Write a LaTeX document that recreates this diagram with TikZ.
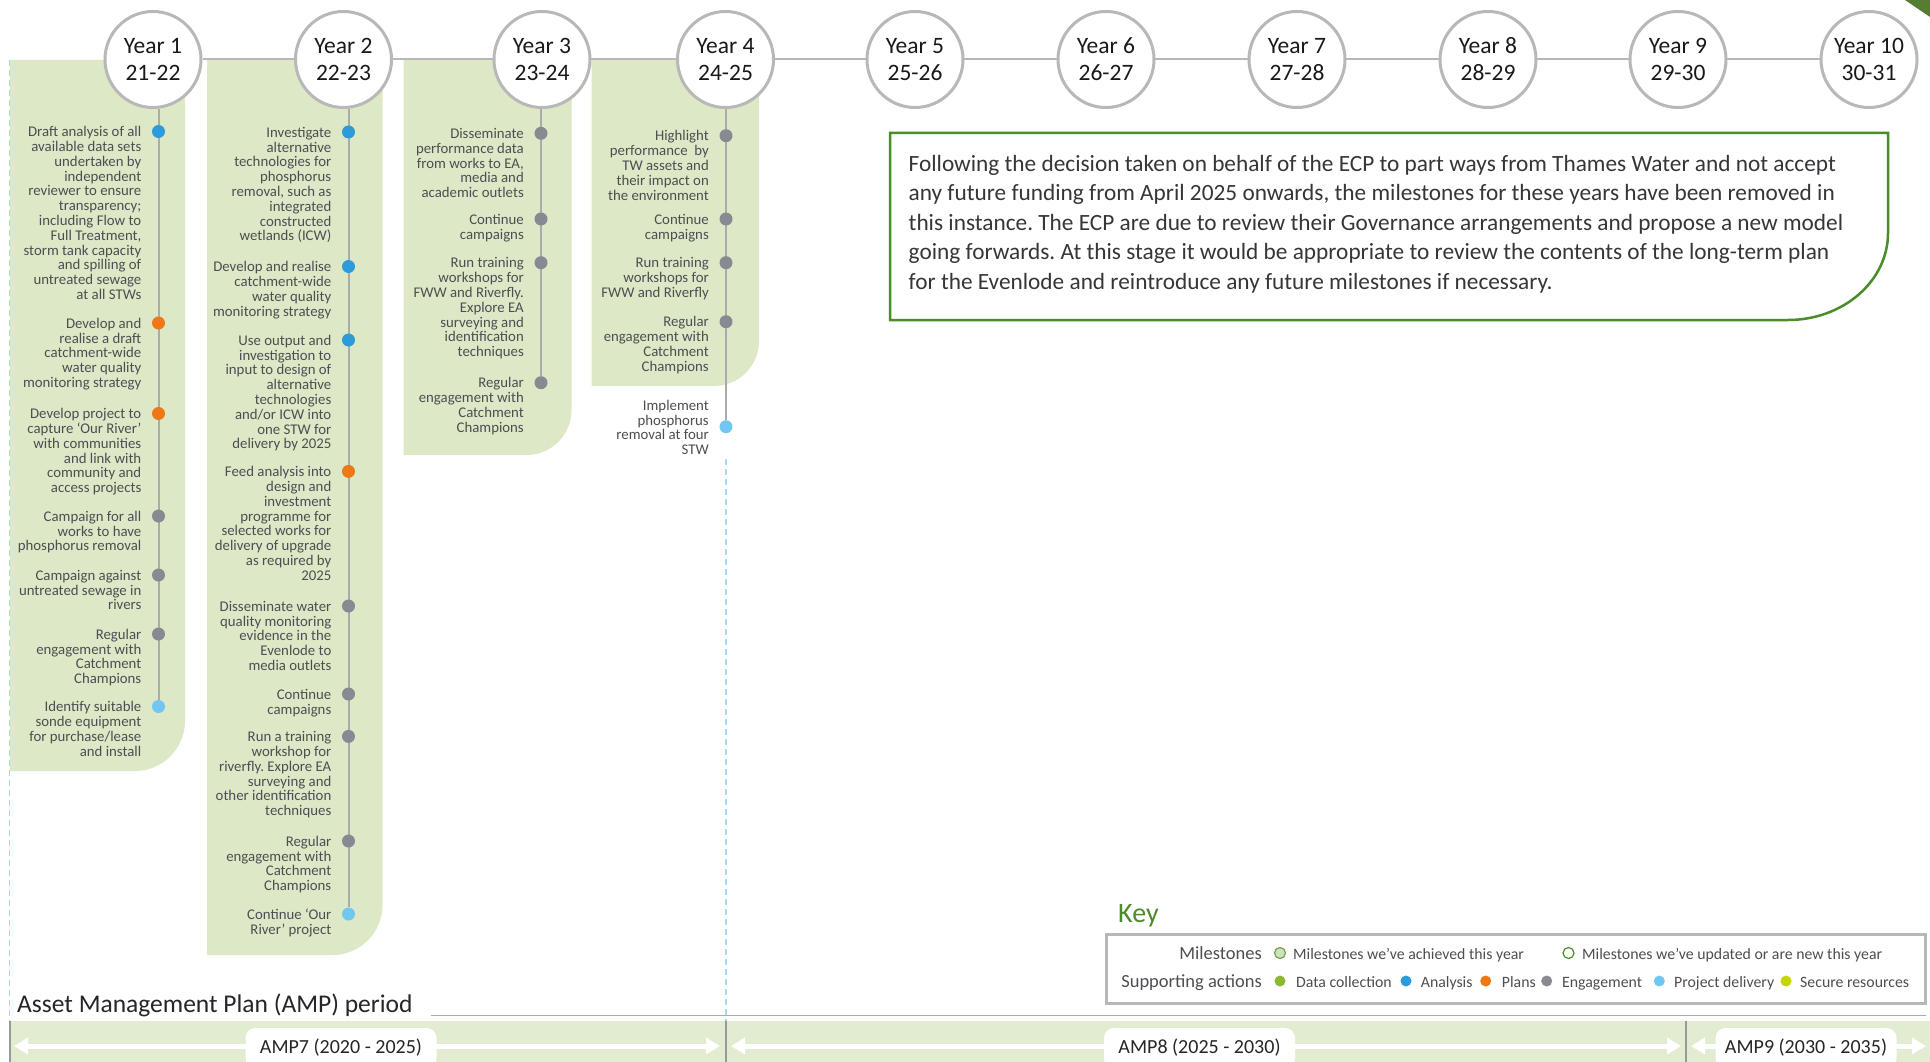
\documentclass[tikz,border=0pt]{standalone}
\usepackage{fontspec}
\setmainfont{Carlito}
\usetikzlibrary{arrows.meta}
\pgfdeclarelayer{bg}\pgfdeclarelayer{mid}\pgfsetlayers{bg,mid,main}
\definecolor{panel}{HTML}{DDE8C6}
\definecolor{band}{HTML}{E2ECD1}
\definecolor{cgray}{HTML}{B8B8B8}
\definecolor{lgray}{HTML}{ABABAB}
\definecolor{txt}{HTML}{4C4E52}
\definecolor{notetxt}{HTML}{35363A}
\definecolor{cana}{HTML}{2D9AD9}
\definecolor{cpla}{HTML}{EE7718}
\definecolor{ceng}{HTML}{878A90}
\definecolor{cpro}{HTML}{72C7F2}
\definecolor{cdat}{HTML}{8DB832}
\definecolor{csec}{HTML}{C6D400}
\definecolor{kgreen}{HTML}{4A8C2A}
\definecolor{dashb}{HTML}{A6D8F2}
\definecolor{achf}{HTML}{CFE1BD}
\definecolor{corner}{HTML}{557D33}
\lineskiplimit=-20pt
\frenchspacing
\newcommand\mstone[6][0]{%
  \node[mdot=#5] (#2) at (#3,#4) {};
  \node[mtext] (#2t) at ([xshift=-17pt,yshift=6.5pt+#1pt]#2.center) {\rule{0pt}{11.5pt}#6};}
\newcommand\panelshape[5]{%
  \fill[panel] (#1,#3) -- (#2,#3) -- (#2,#4-#5) arc[start angle=0,end angle=-90,radius=#5pt] -- (#1,#4) -- cycle;}
\begin{document}
\begin{tikzpicture}[x=1pt,y=-1pt,
  yearc/.style={circle, draw=cgray, line width=3pt, fill=white, minimum size=96pt, inner sep=0pt, align=center, font=\fontsize{23.5}{27}\selectfont, text=black!90},
  mdot/.style={circle, inner sep=0pt, minimum size=13pt, fill=#1},
  mtext/.style={anchor=north east, align=right, inner sep=0pt, font=\fontsize{14.8}{14.8}\selectfont, text=txt},
  vline/.style={draw=lgray, line width=2pt},
  hline/.style={draw=cgray, line width=2pt},
  bluedash/.style={draw=dashb, line width=1.6pt, dash pattern=on 6pt off 4pt},
  keytxt/.style={anchor=base west, inner sep=0pt, font=\fontsize{15.8}{15.8}\selectfont, text=txt},
  keylab/.style={anchor=base east, inner sep=0pt, font=\fontsize{18.5}{18.5}\selectfont, text=txt},
  kdot/.style={circle, inner sep=0pt, minimum size=11pt, fill=#1},
  amparr/.style={draw=white, line width=5pt, {Triangle[length=14pt,width=16pt]}-{Triangle[length=14pt,width=16pt]}},
  amplab/.style={fill=white, rounded corners=10pt, minimum height=40pt, inner sep=0pt, font=\fontsize{20}{20}\selectfont, text=black!85},
  sepl/.style={draw=black!40, line width=2.5pt}
]
\useasboundingbox (0,0) rectangle (1930,1062);
\clip (0,0) rectangle (1930,1062);

% ---------- background, panels and AMP band
\begin{pgfonlayer}{bg}
\fill[white] (0,0) rectangle (1930,1062);
\panelshape{10}{185}{60}{771}{50}
\panelshape{207}{382.5}{60}{955}{50}
\panelshape{403.5}{571.5}{60}{455}{45}
\panelshape{591.5}{759}{60}{386}{45}
\fill[band] (10,1021) rectangle (1930,1062);
\fill[corner] (1905,0) -- (1930,0) -- (1930,17) -- cycle;
\end{pgfonlayer}

% ---------- year circles
\node[yearc] (y1) at (153,59.5) {Year 1\\21-22};
\node[yearc] (y2) at (343.5,59.5) {Year 2\\22-23};
\node[yearc] (y3) at (542,59.5) {Year 3\\23-24};
\node[yearc] (y4) at (725.5,59.5) {Year 4\\24-25};
\node[yearc] (y5) at (915,59.5) {Year 5\\25-26};
\node[yearc] (y6) at (1106,59.5) {Year 6\\26-27};
\node[yearc] (y7) at (1297,59.5) {Year 7\\27-28};
\node[yearc] (y8) at (1488,59.5) {Year 8\\28-29};
\node[yearc] (y9) at (1678,59.5) {Year 9\\29-30};
\node[yearc] (y10) at (1869,59.5) {Year 10\\30-31};

% ---------- Year 1
\mstone{a1}{158.5}{131.5}{cana}{Draft analysis of all\\available data sets\\undertaken by\\independent\\reviewer to ensure\\transparency;\\including Flow to\\Full Treatment,\\storm tank capacity\\and spilling of\\untreated sewage\\at all STWs}
\mstone{a2}{158.5}{323}{cpla}{Develop and\\realise a draft\\catchment-wide\\water quality\\monitoring strategy}
\mstone{a3}{158.5}{413.5}{cpla}{Develop project to\\capture ‘Our River’\\with communities\\and link with\\community and\\access projects}
\mstone{a4}{158.5}{516}{ceng}{Campaign for all\\works to have\\phosphorus removal}
\mstone{a5}{158.5}{575}{ceng}{Campaign against\\untreated sewage in\\rivers}
\mstone{a6}{158.5}{634}{ceng}{Regular\\engagement with\\Catchment\\Champions}
\mstone{a7}{158.5}{706.5}{cpro}{Identify suitable\\sonde equipment\\for purchase/lease\\and install}

% ---------- Year 2
\mstone{b1}{348.5}{132}{cana}{Investigate\\alternative\\technologies for\\phosphorus\\removal, such as\\integrated\\constructed\\wetlands (ICW)}
\mstone{b2}{348.5}{266.5}{cana}{Develop and realise\\catchment-wide\\water quality\\monitoring strategy}
\mstone{b3}{348.5}{340}{cana}{Use output and\\investigation to\\input to design of\\alternative\\technologies\\and/or ICW into\\one STW for\\delivery by 2025}
\mstone{b4}{348.5}{471.4}{cpla}{Feed analysis into\\design and\\investment\\programme for\\selected works for\\delivery of upgrade\\as required by\\2025}
\mstone{b5}{348.5}{606}{ceng}{Disseminate water\\quality monitoring\\evidence in the\\Evenlode to\\media outlets}
\mstone{b6}{348.5}{694}{ceng}{Continue\\campaigns}
\mstone{b7}{348.5}{736.4}{ceng}{Run a training\\workshop for\\riverfly. Explore EA\\surveying and\\other identification\\techniques}
\mstone{b8}{348.5}{841}{ceng}{Regular\\engagement with\\Catchment\\Champions}
\mstone{b9}{348.5}{914}{cpro}{Continue ‘Our\\River’ project}

% ---------- Year 3
\mstone{c1}{541}{133.3}{ceng}{Disseminate\\performance data\\from works to EA,\\media and\\academic outlets}
\mstone{c2}{541}{219}{ceng}{Continue\\campaigns}
\mstone{c3}{541}{262.7}{ceng}{Run training\\workshops for\\FWW and Riverfly.\\Explore EA\\surveying and\\identification\\techniques}
\mstone{c4}{541}{382.7}{ceng}{Regular\\engagement with\\Catchment\\Champions}

% ---------- Year 4
\mstone{d1}{726}{135.7}{ceng}{Highlight\\performance~ by\\TW assets and\\their impact on\\the environment}
\mstone{d2}{726}{219}{ceng}{Continue\\campaigns}
\mstone{d3}{726}{262.7}{ceng}{Run training\\workshops for\\FWW and Riverfly}
\mstone{d4}{726}{321.7}{ceng}{Regular\\engagement with\\Catchment\\Champions}
\mstone[21.7]{d5}{726}{426.7}{cpro}{Implement\\phosphorus\\removal at four\\STW}

% ---------- coordinates for free ends
\coordinate (lt) at (9.5,60);
\coordinate (lb) at (9.5,1021);
\coordinate (d4end) at (726,1021);

% ---------- lines below the nodes
\begin{pgfonlayer}{mid}
\draw[hline] (y1) -- (y10);
\draw[vline] (y1.south -| a1) -- (a7);
\draw[vline] (y2.south -| b1) -- (b9);
\draw[vline] (y3.south -| c1) -- (c4);
\draw[vline] (y4.south -| d1) -- (d5);
\draw[bluedash] (lt) -- (lb);
\draw[bluedash] ([yshift=-32pt]d5.center) -- (d4end);
\end{pgfonlayer}

% ---------- note box
\draw[draw=kgreen, line width=2.5pt] (890,133) -- (1888,133) -- (1888,233)
  arc[start angle=0,end angle=-90,x radius=100pt,y radius=87pt] -- (890,320) -- cycle;
\node[anchor=north west, align=left, inner sep=0pt, text=notetxt,
  font=\fontsize{23.3}{29.5}\selectfont] (note) at (908.5,154)
  {\rule{0pt}{17pt}Following the decision taken on behalf of the ECP to part ways from Thames Water and not accept\\
   any future funding from April 2025 onwards, the milestones for these years have been removed in\\
   this instance. The ECP are due to review their Governance arrangements and propose a new model\\
   going forwards. At this stage it would be appropriate to review the contents of the long-term plan\\
   for the Evenlode and reintroduce any future milestones if necessary.};

% ---------- key
\node[anchor=base west, inner sep=0pt, font=\fontsize{28}{28}\selectfont, text=kgreen] (keyt) at (1118,922) {Key};
\node[draw=cgray, line width=2.5pt, anchor=north west, minimum width=819pt, minimum height=69pt, inner sep=0pt] (keybox) at (1105,933) {};
\node[keylab] (kl1) at (1262,959) {Milestones};
\node[keylab] (kl2) at (1262,987) {Supporting actions};
\node[circle, draw=kgreen!80, fill=achf, line width=1.2pt, minimum size=11pt, inner sep=0pt] (km1) at (1280,953) {};
\node[keytxt] (kt1) at (1293,959) {Milestones we’ve achieved this year};
\node[circle, draw=kgreen, fill=white, line width=1.2pt, minimum size=11pt, inner sep=0pt] (km2) at (1568.5,953) {};
\node[keytxt] (kt2) at (1582,959) {Milestones we’ve updated or are new this year};
\node[kdot=cdat] (ks1) at (1280,981) {};
\node[keytxt] (ks1t) at (1296,987) {Data collection};
\node[kdot=cana] (ks2) at (1406,981) {};
\node[keytxt] (ks2t) at (1420.7,987) {Analysis};
\node[kdot=cpla] (ks3) at (1485.7,981) {};
\node[keytxt] (ks3t) at (1501.7,987) {Plans};
\node[kdot=ceng] (ks4) at (1546.7,981) {};
\node[keytxt] (ks4t) at (1562,987) {Engagement};
\node[kdot=cpro] (ks5) at (1659.3,981) {};
\node[keytxt] (ks5t) at (1674,987) {Project delivery};
\node[kdot=csec] (ks6) at (1786,981) {};
\node[keytxt] (ks6t) at (1800,987) {Secure resources};

% ---------- AMP period
\node[anchor=base west, inner sep=0pt, font=\fontsize{25.5}{25.5}\selectfont, text=black!85] (amptitle) at (17,1012) {Asset Management Plan (AMP) period};
\coordinate (gl1) at (431,1015.5);
\coordinate (gl2) at (1926,1015.5);
\draw[draw=lgray, line width=1.5pt] (gl1) -- (gl2);
\coordinate (s0a) at (10,1021); \coordinate (s0b) at (10,1062);
\coordinate (s1a) at (726,1021); \coordinate (s1b) at (726,1062);
\coordinate (s2a) at (1686,1021); \coordinate (s2b) at (1686,1062);
\draw[sepl] (s0a) -- (s0b);
\draw[sepl] (s1a) -- (s1b);
\draw[sepl] (s2a) -- (s2b);
\coordinate (a7l) at (14,1046); \coordinate (a7r) at (720,1046);
\coordinate (a8l) at (731,1046); \coordinate (a8r) at (1681,1046);
\coordinate (a9l) at (1691,1046); \coordinate (a9r) at (1926,1046);
\draw[amparr] (a7l) -- (a7r);
\draw[amparr] (a8l) -- (a8r);
\draw[amparr] (a9l) -- (a9r);
\node[amplab, minimum width=191pt] (amp7) at (341,1048) {AMP7 (2020 - 2025)};
\node[amplab, minimum width=191pt] (amp8) at (1199.5,1048) {AMP8 (2025 - 2030)};
\node[amplab, minimum width=181pt] (amp9) at (1806,1048) {AMP9 (2030 - 2035)};
\end{tikzpicture}
\end{document}
